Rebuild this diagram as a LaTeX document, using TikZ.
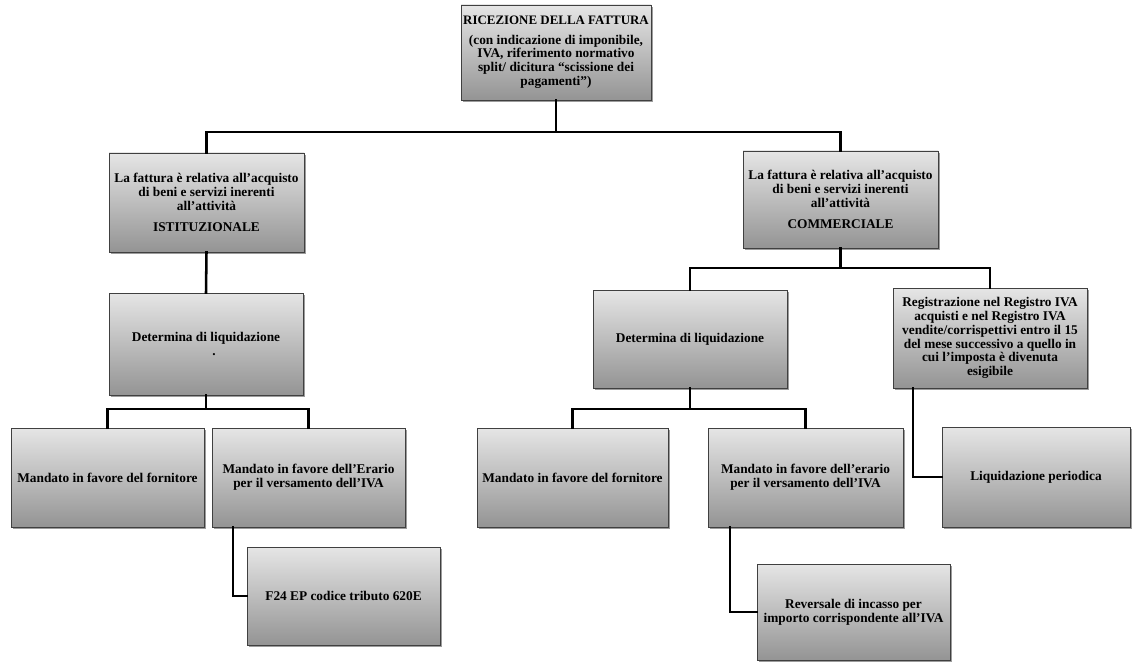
\documentclass[tikz,border=0pt]{standalone}
\usepackage{fontspec}
\setmainfont{Liberation Serif}
\usetikzlibrary{calc,shadows}
\begin{document}
\begin{tikzpicture}[x=0.75pt,y=-0.75pt,
  box/.style={draw=black!75, line width=0.6pt, top color=black!10, bottom color=black!42,
    drop shadow={shadow xshift=1.2pt, shadow yshift=-1.2pt, opacity=0.55, fill=black!70},
    align=center, inner sep=1pt, font=\fontsize{10}{10.4}\selectfont\bfseries},
  conn/.style={draw=black, line width=1.9pt, line cap=rect, line join=miter}]
\useasboundingbox[fill=white] (0,0) rectangle (1132,663);

\node[box, minimum width={190*0.75pt}, minimum height={95*0.75pt}] (top) at (556,52.5)
  {{\fontsize{9.7}{10.4}\selectfont RICEZIONE DELLA FATTURA}\\[4pt]
   (con indicazione di imponibile,\\ IVA, riferimento normativo\\ split/ dicitura “scissione dei\\ pagamenti”)};

\node[box, minimum width={195*0.75pt}, minimum height={99*0.75pt}] (ist) at (206.5,202.5)
  {La fattura è relativa all’acquisto\\ di beni e servizi inerenti\\ all’attività\\[5pt] ISTITUZIONALE};
\node[box, minimum width={195*0.75pt}, minimum height={97*0.75pt}] (com) at (840.5,199.5)
  {La fattura è relativa all’acquisto\\ di beni e servizi inerenti\\ all’attività\\[5pt] COMMERCIALE};

\node[box, minimum width={194*0.75pt}, minimum height={102*0.75pt}] (detL) at (206,344)
  {Determina di liquidazione\\ \hspace*{1.2em}.};
\node[box, minimum width={194*0.75pt}, minimum height={98*0.75pt}] (detR) at (690,339)
  {Determina di liquidazione};
\node[box, minimum width={194*0.75pt}, minimum height={100*0.75pt}] (reg) at (990,338)
  {Registrazione nel Registro IVA\\ acquisti e nel Registro IVA\\ vendite/corrispettivi entro il 15\\ del mese successivo a quello in\\ cui l’imposta è divenuta\\ esigibile};

\node[box, minimum width={193*0.75pt}, minimum height={99*0.75pt}] (mfL) at (107.5,477.5)
  {Mandato in favore del fornitore};
\node[box, minimum width={193*0.75pt}, minimum height={99*0.75pt}] (meL) at (308.5,477.5)
  {Mandato in favore dell’Erario\\ per il versamento dell’IVA};
\node[box, minimum width={191*0.75pt}, minimum height={99*0.75pt}] (mfR) at (572.5,477.5)
  {Mandato in favore del fornitore};
\node[box, minimum width={195*0.75pt}, minimum height={99*0.75pt}] (meR) at (805.5,477.5)
  {Mandato in favore dell’erario\\ per il versamento dell’IVA};
\node[box, minimum width={188*0.75pt}, minimum height={100*0.75pt}] (liq) at (1036,477)
  {Liquidazione periodica};

\node[box, minimum width={193*0.75pt}, minimum height={98*0.75pt}] (f24) at (343.5,596)
  {F24 EP codice tributo 620E};
\node[box, minimum width={193*0.75pt}, minimum height={96*0.75pt}] (rev) at (853.5,612)
  {Reversale di incasso per\\ importo corrispondente all’IVA};

\coordinate (h1) at (0,132);
\coordinate (h2) at (0,409);
\coordinate (h3) at (0,268);

\draw[conn] (top.south) -- (top.south |- h1);
\draw[conn] (ist.north) -- (ist.north |- h1) -- (com.north |- h1) -- (com.north);
\draw[conn] (ist.south) -- (detL.north);
\draw[conn] (detL.south) -- (detL.south |- h2);
\draw[conn] (mfL.north) -- (mfL.north |- h2) -- (meL.north |- h2) -- (meL.north);
\draw[conn] ($(meL.south)+(-75.5,0)$) |- (f24.west);

\draw[conn] (com.south) -- (com.south |- h3);
\draw[conn] (detR.north) -- (detR.north |- h3) -- (reg.north |- h3) -- (reg.north);
\draw[conn] (detR.south) -- (detR.south |- h2);
\draw[conn] (mfR.north) -- (mfR.north |- h2) -- (meR.north |- h2) -- (meR.north);
\draw[conn] ($(meR.south)+(-75.5,0)$) |- (rev.west);
\draw[conn] ($(reg.south)+(-77,0)$) |- (liq.west);
\end{tikzpicture}
\end{document}
